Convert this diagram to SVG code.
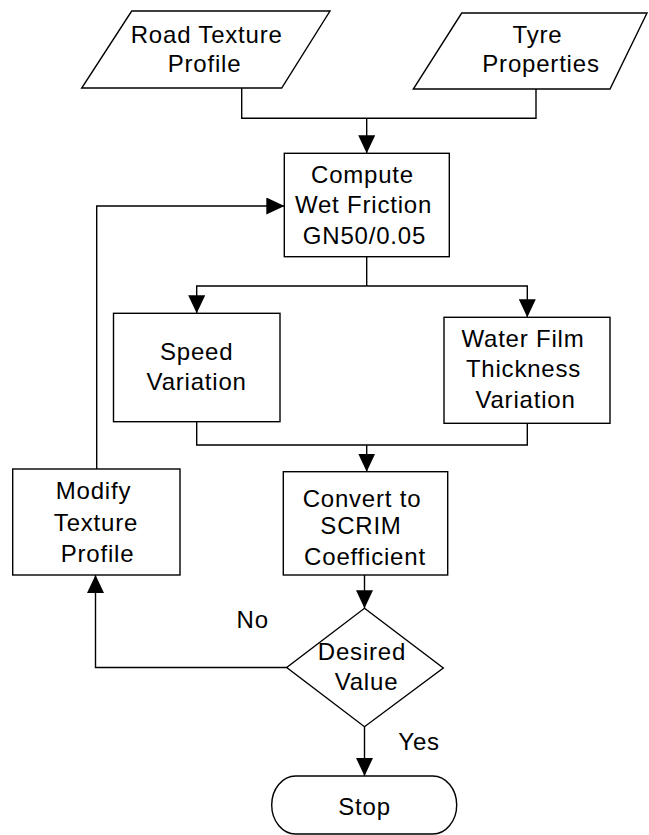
<svg xmlns="http://www.w3.org/2000/svg" width="649" height="835" viewBox="0 0 649 835">
<style>
.s{fill:#fff;stroke:#000;stroke-width:1.4}
.c{fill:none;stroke:#000;stroke-width:1.4}
text{font-family:"Liberation Sans",Arial,sans-serif;font-size:24px;letter-spacing:0.8px;fill:#000;text-anchor:middle}
.l{text-anchor:start}
</style>
<defs>
<marker id="a" markerUnits="userSpaceOnUse" markerWidth="18" markerHeight="18" refX="18" refY="8.5" orient="auto">
<path d="M0,0 L18,8.5 L0,17 z" fill="#000"/>
</marker>
</defs>
<rect width="649" height="835" fill="#fff"/>
<g id="connectors">
<path class="c" d="M241.7,88 V118.3 H536 V89"/>
<path class="c" d="M366.7,118.3 V153.3" marker-end="url(#a)"/>
<path class="c" d="M366.7,256.7 V286"/>
<path class="c" d="M366.7,286 H196.7 V313.3" marker-end="url(#a)"/>
<path class="c" d="M366.7,286 H527.3 V317.3" marker-end="url(#a)"/>
<path class="c" d="M196.7,421.7 V445 H527.3 V423.3"/>
<path class="c" d="M366.7,445 V471.7" marker-end="url(#a)"/>
<path class="c" d="M364.5,575 V608.3" marker-end="url(#a)"/>
<path class="c" d="M286.7,667.5 H95.5 V575" marker-end="url(#a)"/>
<path class="c" d="M364.5,726.7 V776" marker-end="url(#a)"/>
<path class="c" d="M96.7,469 V206 H284.3" marker-end="url(#a)"/>
</g>
<g id="road">
<polygon class="s" points="131.7,11 330,11 281.7,88 81.7,88"/>
<text x="206.7" y="43.3">Road Texture</text>
<text x="204.5" y="71.7">Profile</text>
</g>
<g id="tyre">
<polygon class="s" points="461.7,13 647,13 610,89 413.3,89"/>
<text x="537.5" y="43.3">Tyre</text>
<text x="541" y="71.7">Properties</text>
</g>
<g id="compute">
<rect class="s" x="284.3" y="153.3" width="165" height="103.4"/>
<text x="362.5" y="183">Compute</text>
<text x="363.5" y="213">Wet Friction</text>
<text x="364.5" y="244">GN50/0.05</text>
</g>
<g id="speed">
<rect class="s" x="113.5" y="313.3" width="166.5" height="108.4"/>
<text x="196.7" y="360">Speed</text>
<text x="196.7" y="390">Variation</text>
</g>
<g id="water">
<rect class="s" x="444" y="317.3" width="166" height="106"/>
<text x="523" y="346.7">Water Film</text>
<text x="523.5" y="377.3">Thickness</text>
<text x="525.5" y="408.3">Variation</text>
</g>
<g id="convert">
<rect class="s" x="283.3" y="471.7" width="164.4" height="103.3"/>
<text x="362" y="506.7">Convert to</text>
<text x="361" y="534.3">SCRIM</text>
<text x="365" y="565">Coefficient</text>
</g>
<g id="modify">
<rect class="s" x="12.7" y="469" width="167.3" height="106"/>
<text x="93.5" y="499.3">Modify</text>
<text x="96" y="530.7">Texture</text>
<text x="97.5" y="561.7">Profile</text>
</g>
<g id="desired">
<polygon class="s" points="364.5,608.3 443.3,668 364.5,726.7 286.7,667.5"/>
<text x="362" y="660">Desired</text>
<text x="366.5" y="690">Value</text>
</g>
<g id="stop">
<rect class="s" x="271.7" y="776" width="185" height="58" rx="24" ry="29"/>
<text x="364.5" y="815">Stop</text>
</g>
<g id="labels">
<text class="l" x="236.5" y="628.3">No</text>
<text class="l" x="398.3" y="750">Yes</text>
</g>
</svg>
